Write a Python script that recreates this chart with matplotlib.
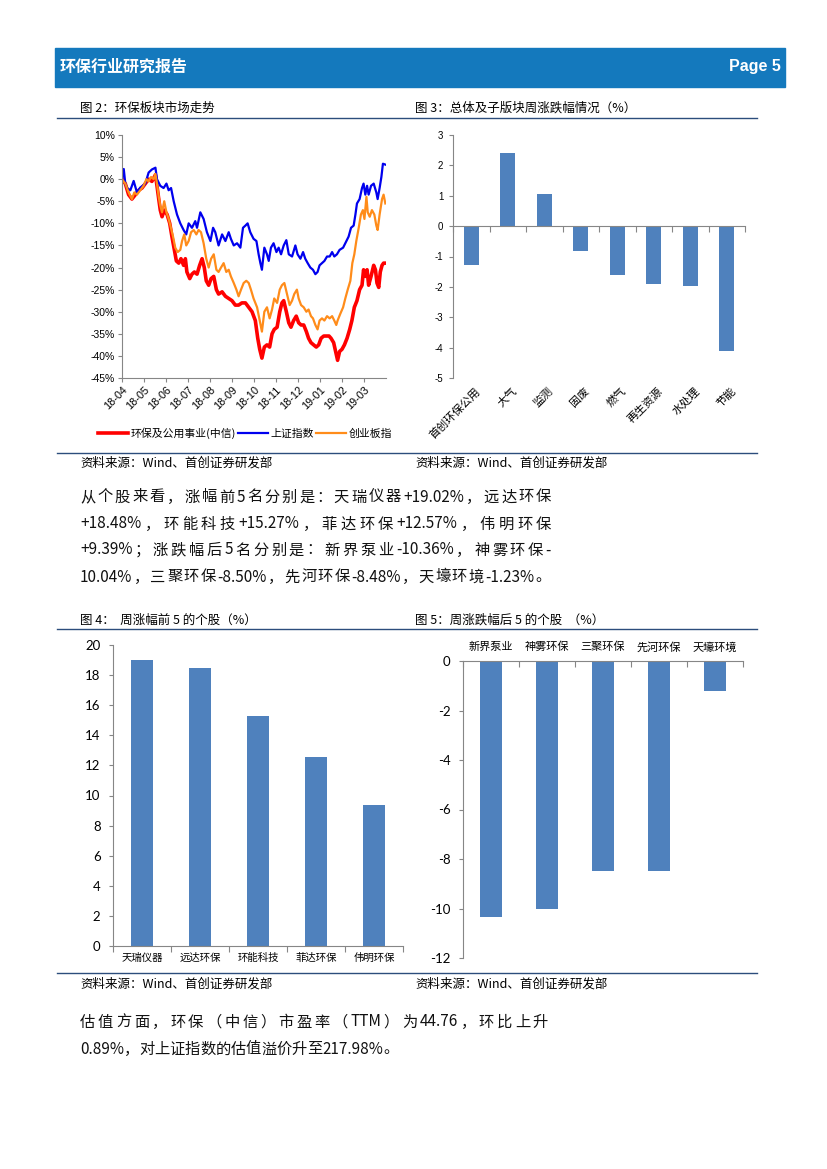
import re
import matplotlib
matplotlib.use('Agg')
import matplotlib.pyplot as plt
from matplotlib.patches import Rectangle
from matplotlib.lines import Line2D

plt.rcParams['font.family'] = ['Noto Sans CJK SC', 'DejaVu Sans']
plt.rcParams['axes.unicode_minus'] = False

# ---- data ----
# fig 2: market trend, x = months since 2018-04, y = cumulative change (%)
month_labels = ['18-04', '18-05', '18-06', '18-07', '18-08', '18-09', '18-10',
                '18-11', '18-12', '19-01', '19-02', '19-03']

env_x = [0, 0.15, 0.3, 0.45, 0.61, 0.76, 0.91, 1.06, 1.21, 1.36, 1.52, 1.59, 1.67, 1.74,
         1.82, 1.92, 2.05, 2.17, 2.27, 2.38, 2.47, 2.58, 2.68, 2.8, 2.88, 2.95, 3.08, 3.18,
         3.29, 3.41, 3.53, 3.64, 3.74, 3.83, 3.94, 4.05, 4.17, 4.29, 4.39, 4.55, 4.7, 4.85,
         5.0, 5.15, 5.3, 5.45, 5.61, 5.76, 5.91, 6.06, 6.17, 6.26, 6.36, 6.47, 6.59, 6.71,
         6.82, 6.92, 7.05, 7.17, 7.27, 7.35, 7.47, 7.58, 7.68, 7.8, 7.92, 8.03, 8.14, 8.26,
         8.38, 8.48, 8.59, 8.71, 8.83, 8.94, 9.05, 9.17, 9.29, 9.41, 9.5, 9.62, 9.71, 9.8,
         9.89, 10.0, 10.11, 10.23, 10.35, 10.45, 10.56, 10.68, 10.8, 10.91, 10.98, 11.06,
         11.14, 11.21, 11.32, 11.44, 11.52, 11.59, 11.67, 11.74, 11.82, 11.89, 12.0]
env_y = [0, -1, -3.5, -4.5, -3.5, -2.5, -2, -1, 0, -0.5, 1, -1.5, -4.5, -7,
         -8.5, -7, -8, -10, -13, -16, -18.5, -19, -18, -19.5, -18, -21, -22.5, -21.5,
         -21, -21.5, -19.5, -18, -20, -23, -24, -22.5, -22, -25, -26, -25.5, -26.5, -27,
         -27.5, -28.5, -28.5, -28, -28, -29, -30, -32, -36, -38.5, -40.5, -38, -37.5, -38,
         -35, -34, -33.5, -30, -28, -27.5, -30, -32.5, -33.5, -32, -31, -32.5, -33, -33,
         -34.5, -36, -37, -37.5, -38, -37.5, -36, -35.5, -35.5, -35.5, -36, -37, -39, -41,
         -39, -38.5, -37.5, -36, -34, -32, -29, -27.5, -25, -24, -20.5, -22,
         -20.5, -24, -22, -19.5, -20.5, -23.5, -24.5, -21, -19.5, -19, -19]

sh_x = [0, 0.08, 0.15, 0.23, 0.38, 0.53, 0.68, 0.83, 1.06, 1.21, 1.36, 1.52, 1.59, 1.74,
        1.89, 2.02, 2.12, 2.23, 2.35, 2.5, 2.65, 2.8, 2.92, 3.03, 3.18, 3.33, 3.41, 3.56,
        3.71, 3.86, 4.02, 4.14, 4.24, 4.39, 4.55, 4.7, 4.85, 4.95, 5.08, 5.23, 5.38, 5.5,
        5.61, 5.71, 5.83, 5.98, 6.11, 6.21, 6.29, 6.36, 6.47, 6.59, 6.67, 6.77, 6.89, 7.02,
        7.12, 7.23, 7.35, 7.47, 7.58, 7.73, 7.88, 7.98, 8.11, 8.23, 8.33, 8.44, 8.56, 8.68,
        8.79, 8.89, 8.98, 9.09, 9.2, 9.32, 9.44, 9.55, 9.65, 9.77, 9.89, 10.05, 10.2, 10.3,
        10.41, 10.53, 10.61, 10.68, 10.8, 10.91, 10.98, 11.06, 11.14, 11.21, 11.32, 11.44,
        11.56, 11.62, 11.71, 11.79, 11.86, 11.97]
sh_y = [0, 2.3, -1, -2, -2.5, -0.4, -3, -1.9, -1, 1.5, 2.2, 2.6, 0, -1.5,
        -2, -1, -2.5, -2, -5, -8, -10, -11.5, -12.5, -10, -11, -9.5, -11, -7.5,
        -9, -12, -14, -11, -12, -15, -12.5, -14, -12, -13.5, -15, -14.5, -15.5, -11,
        -10.5, -10, -12, -13.5, -14, -17, -19, -20.5, -15.5, -17, -18.5, -15.5, -14.5, -16.5,
        -15.5, -17, -15, -13.8, -17, -17.5, -15, -17, -18, -16.5, -18, -19, -20, -20.5,
        -21.5, -21, -19.5, -19, -18.5, -17.5, -17.5, -16.5, -17.5, -17, -16, -15.5, -14, -13,
        -11, -10.5, -8, -5.5, -4.5, -2, -1, -3.5, -1.5, -3.5, -1.5, -1,
        -3, -4.5, -2, 0.5, 3.5, 3.3]

gem_x = [0, 0.15, 0.3, 0.45, 0.56, 0.68, 0.83, 0.98, 1.11, 1.21, 1.32, 1.44, 1.52, 1.59,
         1.67, 1.74, 1.82, 1.92, 2.02, 2.12, 2.2, 2.32, 2.42, 2.53, 2.65, 2.73, 2.83, 2.92,
         3.03, 3.14, 3.26, 3.38, 3.48, 3.59, 3.71, 3.83, 3.94, 4.05, 4.17, 4.29, 4.39, 4.5,
         4.62, 4.74, 4.85, 4.95, 5.08, 5.2, 5.3, 5.41, 5.53, 5.65, 5.76, 5.86, 5.98, 6.14,
         6.26, 6.36, 6.47, 6.59, 6.71, 6.82, 6.92, 7.05, 7.17, 7.27, 7.38, 7.5, 7.62, 7.73,
         7.83, 7.95, 8.03, 8.14, 8.26, 8.38, 8.48, 8.59, 8.68, 8.79, 8.89, 8.98, 9.09, 9.2,
         9.32, 9.44, 9.55, 9.65, 9.74, 9.8, 9.92, 10.05, 10.15, 10.26, 10.38, 10.47, 10.56,
         10.65, 10.76, 10.86, 10.95, 11.02, 11.11, 11.17, 11.26, 11.36, 11.47, 11.56, 11.62,
         11.71, 11.82, 11.89, 11.97]
gem_y = [0, -1, -3, -4.5, -3, -3.5, -2.5, -1.5, 0, -0.5, 0.5, 0, 1.2, -1,
         -4, -6, -7.5, -5, -7.5, -9, -10.5, -13, -15.5, -16.5, -16, -14, -12.5, -15,
         -14, -12, -11.5, -12.5, -11.5, -12, -14.5, -18, -20, -18, -17, -20.5, -21, -20,
         -19, -21, -20.5, -22, -23.5, -25, -26.5, -25, -23.5, -23, -23.5, -25, -27, -29,
         -32, -34.5, -30, -29, -31.5, -29.5, -27, -28, -25, -24, -23.5, -26, -28.5, -27.5,
         -26, -25, -27, -28.5, -29, -30, -29.5, -31, -31.5, -33, -34, -32, -31.5, -32,
         -31, -31.5, -31, -32, -33, -32, -30.5, -29, -27, -25, -23, -19, -17,
         -14, -11, -8, -7, -9, -4, -7.5, -8.5, -7, -8, -10.5, -11.5,
         -8, -4.5, -3.5, -5.5]

# fig 3: sub-sector weekly change (%)
sector_names = ['首创环保公用', '大气', '监测', '固废', '燃气', '再生资源', '水处理', '节能']
sector_vals = [-1.28, 2.40, 1.06, -0.83, -1.62, -1.90, -1.96, -4.10]

# fig 4 / fig 5: top and bottom five stocks (%)
top_names = ['天瑞仪器', '远达环保', '环能科技', '菲达环保', '伟明环保']
top_vals = [19.02, 18.48, 15.27, 12.57, 9.39]
bot_names = ['新界泵业', '神雾环保', '三聚环保', '先河环保', '天壕环境']
bot_vals = [-10.36, -10.04, -8.50, -8.48, -1.23]

para1 = ['从个股来看，涨幅前5名分别是：天瑞仪器+19.02%，远达环保',
         '+18.48%，环能科技+15.27%，菲达环保+12.57%，伟明环保',
         '+9.39%；涨跌幅后5名分别是：新界泵业-10.36%，神雾环保-',
         '10.04%，三聚环保-8.50%，先河环保-8.48%，天壕环境-1.23%。']
para2 = ['估值方面，环保（中信）市盈率（TTM）为44.76，环比上升',
         '0.89%，对上证指数的估值溢价升至217.98%。']

source = '资料来源：Wind、首创证券研发部'

# ---- page ----
W, H = 827, 1169
fig = plt.figure(figsize=(W / 100, H / 100), dpi=100)
BAR = '#4f81bd'
RULE = '#2c4d7c'
AX = '#868686'


def fx(px):
    return px / W


def fy(py):
    return 1 - py / H


def axes_px(l, t, r, b):
    return fig.add_axes([fx(l), fy(b), (r - l) / W, (b - t) / H])


def rule(y, x0=57, x1=757):
    fig.add_artist(Line2D([fx(x0), fx(x1)], [fy(y), fy(y)], color=RULE, lw=1.0))


def justify(line, x0, x1, y, size=11, fill=True):
    # spread extra space between CJK characters / latin runs like Word does
    r = fig.canvas.get_renderer()
    toks = re.findall(r'[\u3000-\u9fff\uff00-\uffef]|[^\u3000-\u9fff\uff00-\uffef]+', line)
    objs = [fig.text(0, fy(y), t, fontsize=size, va='center', color='#111111') for t in toks]
    widths = [o.get_window_extent(r).width for o in objs]
    gap = (x1 - x0 - sum(widths)) / (len(toks) - 1) if fill else 0
    x = x0
    for o, w in zip(objs, widths):
        o.set_x(fx(x))
        x += w + gap


# header bar
fig.add_artist(Rectangle((fx(55), fy(87)), (785 - 55) / W, (87 - 48) / H,
                         transform=fig.transFigure, color='#1479bd', zorder=0))
fig.text(fx(60), fy(67), '环保行业研究报告', color='white', fontsize=11.5,
         fontweight='bold', va='center')
fig.text(fx(781), fy(67), 'Page 5', color='white', fontsize=11.5, fontweight='bold',
         va='center', ha='right', family='Liberation Sans')

# captions and rules
fig.text(fx(80), fy(108), '图 2：环保板块市场走势', fontsize=9, va='center')
fig.text(fx(415), fy(108), '图 3：总体及子版块周涨跌幅情况（%）', fontsize=9, va='center')
fig.text(fx(80), fy(620), '图 4：  周涨幅前 5 的个股（%）', fontsize=9, va='center')
fig.text(fx(415), fy(620), '图 5：周涨跌幅后 5 的个股  （%）', fontsize=9, va='center')
for yy in (118, 453, 629, 973):
    rule(yy)
for yy in (463, 984):
    fig.text(fx(80), fy(yy), source, fontsize=9, va='center')
    fig.text(fx(415), fy(yy), source, fontsize=9, va='center')

# ---- fig 2: line chart ----
ax = axes_px(122, 135, 386, 378)
ax.plot(env_x, env_y, color='#ff0000', lw=2.6, label='环保及公用事业(中信)')
ax.plot(sh_x, sh_y, color='#0000ee', lw=1.6, label='上证指数')
ax.plot(gem_x, gem_y, color='#ff8c1a', lw=1.6, label='创业板指')
ax.set_xlim(0, 12)
ax.set_ylim(-45, 10)
ax.set_yticks(range(-45, 11, 5))
ax.set_yticklabels([f'{v}%' for v in range(-45, 11, 5)], family='Liberation Sans', fontsize=7.5)
ax.set_xticks(range(12))
ax.set_xticklabels(month_labels, rotation=45, ha='right', rotation_mode='anchor',
                   family='Liberation Sans', fontsize=7.8)
for s in ('top', 'right'):
    ax.spines[s].set_visible(False)
for s in ('left', 'bottom'):
    ax.spines[s].set_color(AX)
ax.tick_params(length=3, color=AX, width=0.8, pad=2)
fig.legend(loc='center', bbox_to_anchor=(fx(245), fy(433)), ncol=3, frameon=False,
           fontsize=7.8, handlelength=2.8, handletextpad=0.2, columnspacing=0.2,
           borderaxespad=0)


def bar_axes(ax, names, vals, width):
    n = len(names)
    ax.bar(range(n), vals, width=width, color=BAR, zorder=2)
    ax.set_xlim(-0.5, n - 0.5)
    for s in ('top', 'right', 'bottom', 'left'):
        ax.spines[s].set_color(AX)
        ax.spines[s].set_linewidth(0.8)
    ax.set_xticks([i - 0.5 for i in range(n + 1)])
    ax.set_xticklabels([])
    ax.tick_params(color=AX, width=0.8)


# ---- fig 3: sector bars ----
ax3 = axes_px(453, 135, 745, 378)
bar_axes(ax3, sector_names, sector_vals, 0.41)
ax3.set_ylim(-5, 3)
ax3.set_yticks(range(-5, 4))
ax3.spines['top'].set_visible(False)
ax3.spines['right'].set_visible(False)
ax3.spines['bottom'].set_position(('data', 0))
ax3.tick_params(axis='x', length=4, direction='out')
ax3.tick_params(axis='y', length=3, labelsize=7, pad=4)
for lab in ax3.get_yticklabels():
    lab.set_family('Liberation Sans')
for i, nm in enumerate(sector_names):
    ax3.text(i + 0.1, -5.25, nm, rotation=45, ha='right', va='top', rotation_mode='anchor',
             fontsize=8)

# ---- fig 4: top five ----
ax4 = axes_px(113, 645, 403, 946)
bar_axes(ax4, top_names, top_vals, 0.38)
ax4.set_ylim(0, 20)
ax4.set_yticks(range(0, 21, 2))
ax4.spines['top'].set_visible(False)
ax4.spines['right'].set_visible(False)
ax4.tick_params(axis='x', length=4, direction='out')
ax4.tick_params(axis='y', length=3, labelsize=9.5, pad=6)
for lab in ax4.get_yticklabels():
    lab.set_family('Lato')
for i, nm in enumerate(top_names):
    ax4.text(i, -0.45, nm, ha='center', va='top', fontsize=7.5)

# ---- fig 5: bottom five ----
ax5 = axes_px(463, 661, 743, 958)
bar_axes(ax5, bot_names, bot_vals, 0.4)
ax5.set_ylim(-12, 0)
ax5.set_yticks(range(-12, 1, 2))
ax5.spines['bottom'].set_visible(False)
ax5.spines['right'].set_visible(False)
ax5.xaxis.tick_top()
ax5.tick_params(axis='x', length=4, direction='in')
ax5.tick_params(axis='y', length=3, labelsize=9.5, pad=6)
for lab in ax5.get_yticklabels():
    lab.set_family('Lato')
for i, nm in enumerate(bot_names):
    ax5.text(i, 0.35, nm, ha='center', va='bottom', fontsize=8)

# ---- body text ----
for ln, yy in zip(para1, (497, 524, 550, 577)):
    justify(ln, 80, 551, yy)
justify(para2[0], 80, 548, 1022)
justify(para2[1], 80, 548, 1049, fill=False)

fig.savefig('out.png', dpi=100)
